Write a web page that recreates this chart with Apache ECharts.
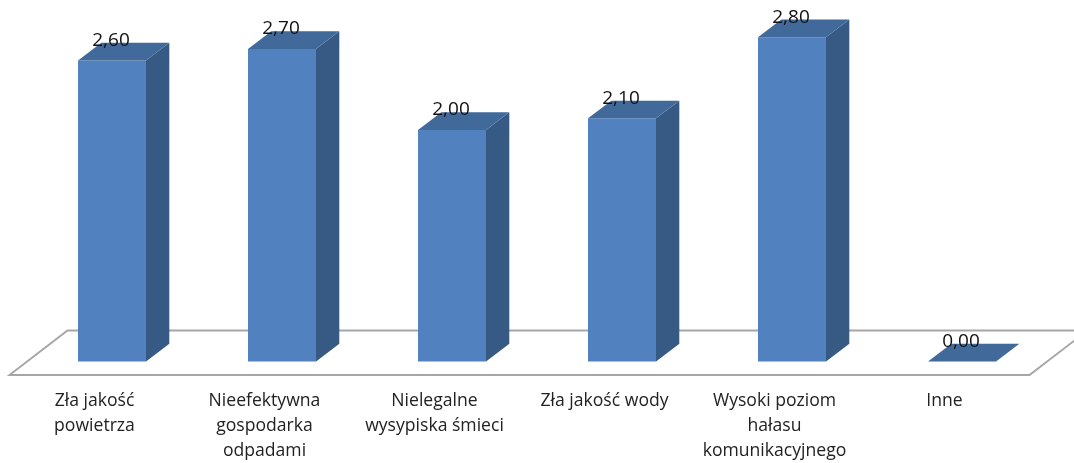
<!DOCTYPE html>
<html>
<head>
<meta charset="utf-8">
<style>html,body{margin:0;padding:0;background:#fff}#c{width:1074px;height:463px}</style>
<script src="https://cdn.jsdelivr.net/npm/echarts@6/dist/echarts.min.js"></script>
</head>
<body>
<div id="c"></div>
<script>
const categories = ['Zła jakość\npowietrza', 'Nieefektywna\ngospodarka\nodpadami', 'Nielegalne\nwysypiska śmieci', 'Zła jakość wody', 'Wysoki poziom\nhałasu\nkomunikacyjnego', 'Inne'];
const values = [2.6, 2.7, 2.0, 2.1, 2.8, 0.0];

const FONT = '"Open Sans", Lato, sans-serif';
const barW = 68, barShift = [17.5, -13.5], depth = [23.3, -17.7], floorDepth = [58, -44.5];

const chart = echarts.init(document.getElementById('c'), null, {renderer: 'canvas'});

function renderFloor(params, api) {
  const band = api.size([1, 0])[0];
  const a = api.coord([0, 0]);
  const b = api.coord([categories.length - 1, 0]);
  const x0 = a[0] - band / 2, x1 = b[0] + band / 2, y = a[1];
  return {
    type: 'polygon',
    shape: {points: [[x0, y], [x1, y], [x1 + floorDepth[0], y + floorDepth[1]], [x0 + floorDepth[0], y + floorDepth[1]]]},
    style: {fill: '#ffffff', stroke: '#a6a6a6', lineWidth: 1.9}
  };
}

function renderBar(params, api) {
  const idx = api.value(0), v = api.value(1);
  const base = api.coord([idx, 0]), top = api.coord([idx, v]);
  const cx = base[0] + barShift[0];
  const xl = cx - barW / 2, xr = cx + barW / 2;
  const yb = base[1] + barShift[1], yt = top[1] + barShift[1];
  const dx = depth[0], dy = depth[1];
  const children = [];
  if (v > 0) {
    children.push({type: 'rect', shape: {x: xl, y: yt, width: barW, height: yb - yt},
      style: {fill: '#5181bf'}});
    children.push({type: 'polygon', shape: {points: [[xr, yt], [xr + dx, yt + dy], [xr + dx, yb + dy], [xr, yb]]},
      style: {fill: '#375a84'}});
  }
  children.push({type: 'polygon', shape: {points: [[xl, yt], [xr, yt], [xr + dx, yt + dy], [xl + dx, yt + dy]]},
    style: {fill: '#41699a'}});
  children.push({type: 'text', z2: 10, style: {
    text: v.toFixed(2).replace('.', ','), x: cx - 1, y: yt - 20,
    align: 'center', verticalAlign: 'middle', fill: '#111111', font: '19px ' + FONT}});
  return {type: 'group', children};
}

chart.setOption({
  animation: false,
  backgroundColor: '#ffffff',
  grid: {left: 9.5, width: 1020, top: 4.5, height: 371},
  xAxis: {
    type: 'category', data: categories,
    axisLine: {show: false}, axisTick: {show: false}, splitLine: {show: false},
    axisLabel: {interval: 0, color: '#222222', fontFamily: FONT, fontSize: 17.6, lineHeight: 25, margin: 13, verticalAlign: 'top'}
  },
  yAxis: {type: 'value', min: 0, max: 3.2, show: false},
  series: [
    {type: 'custom', clip: false, silent: true, z: 1, renderItem: renderFloor, data: [[0, 0]], encode: {x: 0, y: 1}},
    {type: 'custom', clip: false, silent: true, z: 2, renderItem: renderBar,
      data: values.map((v, i) => [i, v]), encode: {x: 0, y: 1}}
  ]
});
</script>
</body>
</html>
